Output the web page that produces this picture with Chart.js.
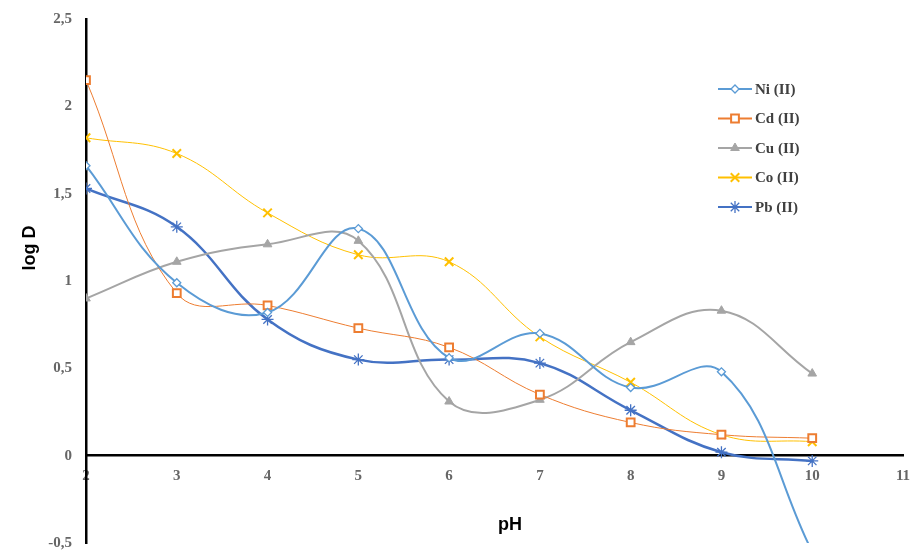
<!DOCTYPE html>
<html>
<head>
<meta charset="utf-8">
<script src="https://cdn.jsdelivr.net/npm/chart.js@4.4.0/dist/chart.umd.min.js"></script>
<style>
  body { margin: 0; background: #fff; }
  #wrap { width: 914px; height: 551px; position: relative; }
</style>
</head>
<body>
<div id="wrap"><canvas id="logChart"></canvas></div>
<script>
// values
const phValues = [2, 3, 4, 5, 6, 7, 8, 9, 10];
const niValues = [1.66, 0.99, 0.82, 1.30, 0.56, 0.70, 0.39, 0.48, -0.55];
const cdValues = [2.15, 0.93, 0.86, 0.73, 0.62, 0.35, 0.19, 0.12, 0.10];
const cuValues = [0.90, 1.11, 1.21, 1.23, 0.31, 0.32, 0.65, 0.83, 0.47];
const coValues = [1.82, 1.73, 1.39, 1.15, 1.11, 0.68, 0.42, 0.12, 0.08];
const pbValues = [1.53, 1.31, 0.78, 0.55, 0.55, 0.53, 0.26, 0.02, -0.03];
const seriesNames = ["Ni (II)", "Cd (II)", "Cu (II)", "Co (II)", "Pb (II)"];

const toPoints = (vals) => vals.map((v, i) => ({ x: phValues[i], y: v }));

const datasets = [
  { label: seriesNames[0], data: toPoints(niValues), borderColor: "#5B9BD5", backgroundColor: "#fff",
    borderWidth: 2, pointStyle: "rectRot", pointRadius: 4, pointBorderWidth: 1.3 },
  { label: seriesNames[1], data: toPoints(cdValues), borderColor: "#ED7D31", backgroundColor: "#fff",
    borderWidth: 1, pointStyle: "rect", pointRadius: 5.5, pointBorderWidth: 2 },
  { label: seriesNames[2], data: toPoints(cuValues), borderColor: "#A5A5A5", backgroundColor: "#A5A5A5",
    borderWidth: 2, pointStyle: "triangle", pointRadius: 5, pointBorderWidth: 1 },
  { label: seriesNames[3], data: toPoints(coValues), borderColor: "#FFC000", backgroundColor: "#FFC000",
    borderWidth: 1, pointStyle: "crossRot", pointRadius: 6, pointBorderWidth: 2 },
  { label: seriesNames[4], data: toPoints(pbValues), borderColor: "#4472C4", backgroundColor: "#4472C4",
    borderWidth: 2.5, pointStyle: "star", pointRadius: 6, pointBorderWidth: 1.3 },
];

// axis titles + legend placed like the original
const extras = {
  id: "extras",
  afterDraw(chart) {
    const ctx = chart.ctx;
    ctx.save();
    ctx.fillStyle = "#000";
    ctx.font = 'bold 18px "Liberation Sans", Arial, sans-serif';
    ctx.textAlign = "center";
    ctx.textBaseline = "middle";
    ctx.fillText("pH", 510, 525);
    ctx.translate(30, 248);
    ctx.rotate(-Math.PI / 2);
    ctx.fillText("log D", 0, 0);
    ctx.restore();

    ctx.save();
    chart.data.datasets.forEach((ds, i) => {
      const y = 89 + i * 29.5;
      ctx.strokeStyle = ds.borderColor;
      ctx.lineWidth = 2;
      ctx.beginPath();
      ctx.moveTo(718, y);
      ctx.lineTo(752, y);
      ctx.stroke();
      ctx.fillStyle = ds.backgroundColor;
      ctx.lineWidth = ds.pointBorderWidth;
      Chart.helpers.drawPoint(ctx, { pointStyle: ds.pointStyle, radius: ds.pointRadius, borderWidth: ds.pointBorderWidth, rotation: 0 }, 735, y);
      ctx.fillStyle = "#404040";
      ctx.font = 'bold 15px "Liberation Serif", "Times New Roman", serif';
      ctx.textAlign = "left";
      ctx.textBaseline = "middle";
      ctx.fillText(ds.label, 755, y + 1);
    });
    ctx.restore();
  },
};

const tickFont = { family: '"Liberation Serif", "Times New Roman", serif', size: 15, weight: "bold" };

new Chart(document.getElementById("logChart").getContext("2d"), {
  type: "line",
  data: { datasets: datasets },
  options: {
    responsive: true,
    maintainAspectRatio: false,
    animation: false,
    layout: { padding: { left: 0, right: 11, top: 19, bottom: 8 } },
    elements: { line: { tension: 0.4, fill: false } },
    plugins: { legend: { display: false }, tooltip: { enabled: false } },
    scales: {
      x: {
        type: "linear",
        position: { y: 0 },
        min: 2,
        max: 11,
        grid: { display: false, drawTicks: false },
        border: { color: "#000", width: 2.5 },
        ticks: { stepSize: 1, color: "#666", font: tickFont, padding: 11, autoSkip: false },
        afterFit: (s) => { s.paddingLeft = 0; s.paddingRight = 0; },
      },
      y: {
        type: "linear",
        position: "left",
        min: -0.5,
        max: 2.5,
        grid: { display: false, drawTicks: false },
        border: { color: "#000", width: 2.5 },
        ticks: {
          stepSize: 0.5,
          color: "#666",
          font: tickFont,
          padding: 14,
          callback: (v) => String(v).replace(".", ","),
        },
        afterFit: (s) => { s.width = 86; s.paddingTop = 0; s.paddingBottom = 0; },
      },
    },
  },
  plugins: [extras],
});
</script>
</body>
</html>
